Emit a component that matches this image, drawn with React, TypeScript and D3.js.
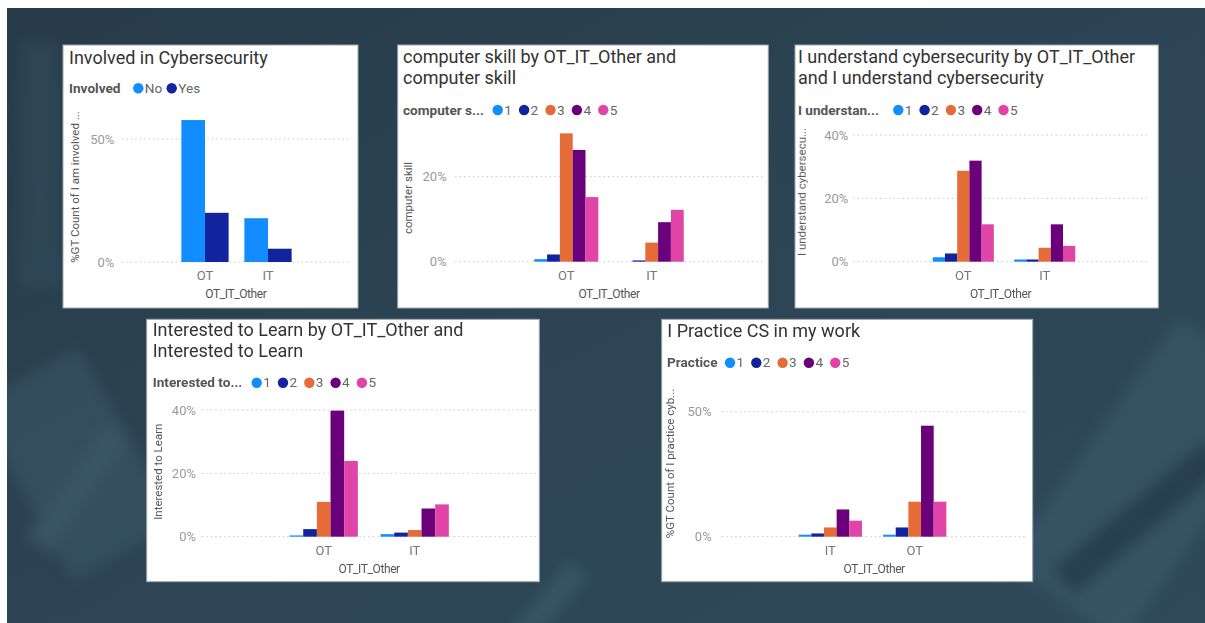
import React from 'react';
import * as d3 from 'd3';

// ---- data (percent of grand total) ----
const involvedCategories = ['OT', 'IT'];
const involvedKeys = ['No', 'Yes'];
const involvedNo = [57.7, 17.8];
const involvedYes = [20.0, 5.4];

const ratingKeys = ['1', '2', '3', '4', '5'];
const roleCategories = ['OT', 'IT'];

const skillOT = [0.6, 1.7, 30.2, 26.3, 15.2];
const skillIT = [0, 0.3, 4.5, 9.3, 12.2];

const understandOT = [1.4, 2.6, 28.7, 31.9, 11.8];
const understandIT = [0.7, 0.7, 4.4, 11.8, 5.0];

const learnOT = [0.4, 2.4, 11.0, 39.8, 23.9];
const learnIT = [0.8, 1.3, 2.1, 8.9, 10.2];

const practiceCategories = ['IT', 'OT'];
const practiceIT = [0.8, 1.3, 3.7, 10.9, 6.4];
const practiceOT = [0.8, 3.7, 14.0, 44.4, 14.0];

const ticks50 = [0, 50];
const ticks20 = [0, 20];
const ticks40 = [0, 20, 40];

const twoColors = ['#118DFF', '#12239E'];
const fiveColors = ['#118DFF', '#12239E', '#E66C37', '#6B007B', '#E044A7'];

const TITLE_FONT = 'Roboto, "DejaVu Sans", sans-serif';
const BODY_FONT = 'Roboto, "Open Sans", sans-serif';
const TITLE_SIZE = 18;
const TITLE_LEADING = 20.5;

type PanelProps = {
  box: [number, number, number, number];
  title: string[];
  titleX: number;
  titleY: number;
  legendTitle: string;
  legendX: number;
  legendY: number;
  legendFirst: number;
  legendStep: number;
  keys: string[];
  colors: string[];
  categories: string[];
  values: number[][];
  yMax: number;
  ticks: number[];
  y0: number;
  yTop: number;
  gridX: [number, number];
  bandRange: [number, number];
  tickRight: number;
  yTitle: string;
  yTitleX: number;
  yTitleY: number;
  xLabelY: number;
  xTitleY: number;
};

function Panel(p: PanelProps) {
  const [bx, by, bw, bh] = p.box;
  const y = d3.scaleLinear().domain([0, p.yMax]).range([p.y0, p.yTop]);
  const x0 = d3
    .scaleBand<string>()
    .domain(p.categories)
    .range(p.bandRange)
    .paddingInner(0.25)
    .paddingOuter(0.125);
  const x1 = d3.scaleBand<string>().domain(p.keys).range([0, x0.bandwidth()]);
  const gridMid = (p.gridX[0] + p.gridX[1]) / 2;

  return (
    <g>
      <rect x={bx} y={by} width={bw} height={bh} fill="#ffffff" stroke="#9aa7b0" strokeWidth={1} />
      {p.title.map((line, i) => (
        <text
          key={i}
          x={p.titleX}
          y={p.titleY + i * TITLE_LEADING}
          fontFamily={TITLE_FONT}
          fontSize={TITLE_SIZE}
          fill="#333333"
        >
          {line}
        </text>
      ))}
      <text x={p.legendX} y={p.legendY} dy="0.35em" fontFamily={BODY_FONT} fontWeight={700} fontSize={13.6} fill="#555555">
        {p.legendTitle}
      </text>
      {p.keys.map((k, i) => {
        const cx = p.legendFirst + i * p.legendStep;
        return (
          <g key={k}>
            <circle cx={cx} cy={p.legendY} r={5.2} fill={p.colors[i]} />
            <text x={cx + 6.5} y={p.legendY} dy="0.35em" fontFamily={BODY_FONT} fontSize={13.6} fill="#666666">
              {k}
            </text>
          </g>
        );
      })}
      {p.ticks.map((t) => (
        <g key={t}>
          <line
            x1={p.gridX[0]}
            x2={p.gridX[1]}
            y1={y(t)}
            y2={y(t)}
            stroke="#c8c8c8"
            strokeWidth={1}
            strokeDasharray="1.5,3"
          />
          <text x={p.tickRight} y={y(t)} dy="0.35em" textAnchor="end" fontFamily={BODY_FONT} fontSize={13} fill="#9a9a9a">
            {`${t}%`}
          </text>
        </g>
      ))}
      {p.categories.map((c, ci) => (
        <g key={c} transform={`translate(${x0(c)},0)`}>
          {p.keys.map((k, ki) => {
            const v = p.values[ci][ki];
            return (
              <rect
                key={k}
                x={x1(k)}
                y={y(v)}
                width={x1.bandwidth()}
                height={p.y0 - y(v)}
                fill={p.colors[ki]}
              />
            );
          })}
          <text
            x={x0.bandwidth() / 2}
            y={p.xLabelY}
            textAnchor="middle"
            fontFamily={BODY_FONT}
            fontSize={13}
            fill="#777777"
          >
            {c}
          </text>
        </g>
      ))}
      <text
        x={gridMid}
        y={p.xTitleY}
        textAnchor="middle"
        fontFamily={BODY_FONT}
        fontSize={12}
        letterSpacing={-0.4}
        fill="#555555"
      >
        OT_IT_Other
      </text>
      <text
        transform={`translate(${p.yTitleX},${p.yTitleY}) rotate(-90)`}
        dy="0.35em"
        textAnchor="middle"
        fontFamily={BODY_FONT}
        fontSize={11.5}
        fill="#555555"
      >
        {p.yTitle}
      </text>
    </g>
  );
}

function Backdrop() {
  return (
    <g>
      <defs>
        <linearGradient id="bg" x1="0" y1="0" x2="1" y2="1">
          <stop offset="0" stopColor="#273b48" />
          <stop offset="0.5" stopColor="#2c4454" />
          <stop offset="1" stopColor="#304a5a" />
        </linearGradient>
        <filter id="soft" x="-30%" y="-30%" width="160%" height="160%">
          <feGaussianBlur stdDeviation="7" />
        </filter>
        <clipPath id="bgClip">
          <rect x={7} y={8} width={1198} height={615} />
        </clipPath>
      </defs>
      <rect x={0} y={0} width={1205} height={623} fill="#ffffff" />
      <rect x={7} y={8} width={1198} height={615} fill="url(#bg)" />
      <g clipPath="url(#bgClip)">
        <g filter="url(#soft)" opacity={0.35}>
          <rect x={20} y={360} width={120} height={200} fill="#47667a" transform="rotate(-30 85 470)" />
          <rect x={60} y={420} width={30} height={140} fill="#557587" transform="rotate(35 80 495)" />
          <rect x={1080} y={330} width={140} height={300} fill="#46677a" transform="rotate(35 1150 480)" />
          <rect x={1040} y={500} width={200} height={36} fill="#1f3240" transform="rotate(-40 1140 520)" />
          <rect x={540} y={560} width={26} height={90} fill="#4a7080" transform="rotate(40 555 600)" />
          <rect x={20} y={40} width={40} height={250} fill="#3b5668" />
        </g>
      </g>
    </g>
  );
}

export default function App() {
  const panels: PanelProps[] = [
    {
      box: [63, 45, 295, 263],
      title: ['Involved in Cybersecurity'],
      titleX: 69,
      titleY: 64,
      legendTitle: 'Involved',
      legendX: 69,
      legendY: 88.3,
      legendFirst: 138.3,
      legendStep: 33.4,
      keys: involvedKeys,
      colors: twoColors,
      categories: involvedCategories,
      values: involvedCategories.map((_, i) => [involvedNo[i], involvedYes[i]]),
      yMax: 50,
      ticks: ticks50,
      y0: 262,
      yTop: 139,
      gridX: [121.7, 350],
      bandRange: [173.5, 299.5],
      tickRight: 114.3,
      yTitle: '%GT Count of I am involved ...',
      yTitleX: 75,
      yTitleY: 187,
      xLabelY: 280,
      xTitleY: 298,
    },
    {
      box: [397.7, 45, 370.6, 263],
      title: ['computer skill by OT_IT_Other and', 'computer skill'],
      titleX: 403,
      titleY: 63,
      legendTitle: 'computer s...',
      legendX: 403,
      legendY: 110,
      legendFirst: 497.7,
      legendStep: 26.4,
      keys: ratingKeys,
      colors: fiveColors,
      categories: roleCategories,
      values: [skillOT, skillIT],
      yMax: 20,
      ticks: ticks20,
      y0: 261.7,
      yTop: 176.7,
      gridX: [455, 763],
      bandRange: [523.6, 694.4],
      tickRight: 446.7,
      yTitle: 'computer skill',
      yTitleX: 408.3,
      yTitleY: 198,
      xLabelY: 280,
      xTitleY: 298,
    },
    {
      box: [795, 45, 363.3, 263],
      title: ['I understand cybersecurity by OT_IT_Other', 'and I understand cybersecurity'],
      titleX: 798,
      titleY: 63,
      legendTitle: 'I understan...',
      legendX: 798,
      legendY: 110,
      legendFirst: 898.3,
      legendStep: 26.3,
      keys: ratingKeys,
      colors: fiveColors,
      categories: roleCategories,
      values: [understandOT, understandIT],
      yMax: 40,
      ticks: ticks40,
      y0: 261.7,
      yTop: 135,
      gridX: [853, 1148],
      bandRange: [922.6, 1085.4],
      tickRight: 848.3,
      yTitle: 'I understand cybersecu...',
      yTitleX: 801.7,
      yTitleY: 192,
      xLabelY: 280,
      xTitleY: 298,
    },
    {
      box: [146.7, 319.3, 392.6, 262.4],
      title: ['Interested to Learn by OT_IT_Other and', 'Interested to Learn'],
      titleX: 152.7,
      titleY: 336.2,
      legendTitle: 'Interested to...',
      legendX: 152.7,
      legendY: 382.7,
      legendFirst: 256.7,
      legendStep: 26.3,
      keys: ratingKeys,
      colors: fiveColors,
      categories: roleCategories,
      values: [learnOT, learnIT],
      yMax: 40,
      ticks: ticks40,
      y0: 536.7,
      yTop: 410,
      gridX: [201.7, 536.7],
      bandRange: [278.2, 460.2],
      tickRight: 196,
      yTitle: 'Interested to Learn',
      yTitleX: 158.3,
      yTitleY: 471.7,
      xLabelY: 554.5,
      xTitleY: 572.7,
    },
    {
      box: [661.7, 319.3, 371, 262.4],
      title: ['I Practice CS in my work'],
      titleX: 667.3,
      titleY: 336.7,
      legendTitle: 'Practice',
      legendX: 667,
      legendY: 362.7,
      legendFirst: 730,
      legendStep: 26.3,
      keys: ratingKeys,
      colors: fiveColors,
      categories: practiceCategories,
      values: [practiceIT, practiceOT],
      yMax: 50,
      ticks: ticks50,
      y0: 536.7,
      yTop: 411.7,
      gridX: [721.7, 1026.7],
      bandRange: [788.1, 956.9],
      tickRight: 711.7,
      yTitle: '%GT Count of I practice cyb...',
      yTitleX: 670,
      yTitleY: 463.5,
      xLabelY: 554.5,
      xTitleY: 572.7,
    },
  ];

  return (
    <svg
      width={1205}
      height={623}
      viewBox="0 0 1205 623"
      style={{ position: 'fixed', left: 0, top: 0, display: 'block' }}
    >
      <Backdrop />
      {panels.map((p, i) => (
        <Panel key={i} {...p} />
      ))}
    </svg>
  );
}
